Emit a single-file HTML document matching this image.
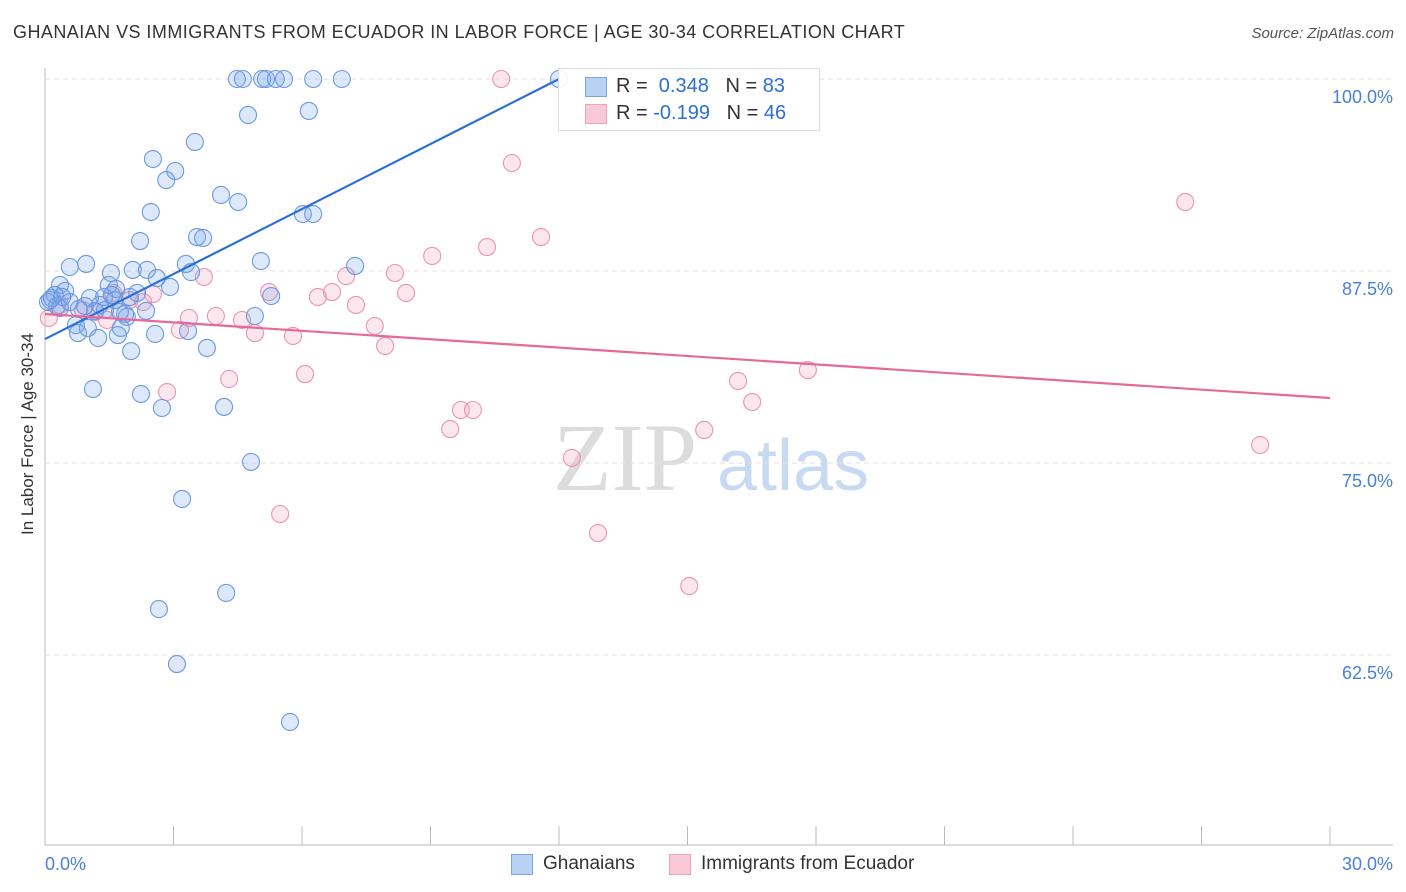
<!DOCTYPE html>
<html><head><meta charset="utf-8">
<style>
body{margin:0;background:#fff;font-family:"Liberation Sans",sans-serif;}
#wrap{position:relative;width:1406px;height:892px;overflow:hidden;}
.t{position:absolute;white-space:nowrap;}
</style></head>
<body>
<div id="wrap">
<div class="t" style="left:13px;top:22px;font-size:18px;color:#333;letter-spacing:0.45px">GHANAIAN VS IMMIGRANTS FROM ECUADOR IN LABOR FORCE | AGE 30-34 CORRELATION CHART</div>
<div class="t" style="right:12px;top:25px;font-size:15px;color:#555;font-style:italic">Source: ZipAtlas.com</div>
<div class="t" style="left:-52px;top:445px;font-size:17px;color:#333;transform:rotate(-90deg);transform-origin:center;width:160px;text-align:center">In Labor Force | Age 30-34</div>
<svg id="svg" width="1406" height="892" style="position:absolute;left:0;top:0"></svg>
</div>
<script>
const yTicks=[100,87.5,75,62.5];
const yTickLabels=["100.0%","87.5%","75.0%","62.5%"];
const xTickVals=[0,3,6,9,12,15,18,21,24,27,30];
const blueX=[4.48,4.62,5.07,5.16,5.39,5.58,6.26,6.93,12.0,4.74,6.16,3.50,2.52,3.04,2.83,4.11,4.51,2.47,6.02,6.26,2.22,3.55,3.69,0.58,0.96,1.54,2.05,2.38,3.29,5.04,7.24,3.41,2.61,0.35,0.47,2.92,1.49,1.66,0.23,0.12,0.16,1.05,1.38,2.15,5.28,1.98,0.35,1.17,0.79,2.36,1.87,1.91,4.90,0.72,1.00,1.77,0.77,1.24,1.70,2.57,3.34,2.01,3.78,1.12,2.24,2.73,4.18,4.81,3.20,2.66,4.23,3.08,5.72,0.28,0.07,0.58,1.63,1.28,0.93,1.75,0.40,1.40,1.56];
const blueY=[100,100,100,100,100,100,100,100,100,97.66,97.92,95.90,94.79,94.01,93.42,92.45,91.99,91.34,91.21,91.21,89.45,89.71,89.65,87.76,87.96,87.37,87.57,87.57,87.96,88.15,87.83,87.43,87.04,86.59,86.20,86.46,86.59,86.33,85.94,85.61,85.74,85.74,85.81,86.07,85.87,85.81,85.09,84.90,85.03,84.90,84.70,84.51,84.57,83.98,83.79,83.79,83.46,83.14,83.33,83.40,83.59,82.29,82.49,79.82,79.49,78.58,78.65,75.07,72.66,65.49,66.54,61.91,58.14,85.22,85.48,85.48,85.61,85.29,85.22,84.83,85.81,84.96,85.94];
const pinkX=[10.65,10.90,26.62,11.58,10.32,9.04,7.03,8.17,3.71,6.70,6.37,8.43,5.23,1.59,2.52,2.29,0.35,7.26,3.99,3.36,4.60,1.45,3.15,7.70,4.90,5.79,7.94,0.09,0.89,2.85,4.30,6.07,16.18,17.81,16.51,9.71,9.99,9.46,15.39,12.30,28.37,5.49,12.91,15.04,1.98,1.17];
const pinkY=[100,94.53,91.99,89.71,89.06,88.48,87.17,87.37,87.11,86.13,85.81,86.07,86.13,86.07,86.00,85.48,85.29,85.29,84.57,84.44,84.31,84.31,83.66,83.92,83.46,83.27,82.62,84.44,84.96,79.62,80.47,80.79,80.34,81.05,78.97,78.45,78.45,77.21,77.15,75.33,76.17,71.68,70.44,66.99,85.61,84.83];
const blueTrend=[[0,83.07],[12.0,100]];
const pinkTrend=[[0,84.7],[30,79.23]];

const X0=45,X1=1330,Y100=79,PX_PER=15.36;
const sx=v=>X0+v*(X1-X0)/30;
const sy=v=>Y100+(100-v)*PX_PER;
const svg=document.getElementById('svg');
const NS='http://www.w3.org/2000/svg';
function mk(tag,attrs){const e=document.createElementNS(NS,tag);for(const k in attrs)e.setAttribute(k,attrs[k]);svg.appendChild(e);return e;}

let w=mk('text',{x:553,y:490,'font-family':'Liberation Serif, serif','font-size':96,fill:'#dcdcdc'});
w.textContent='ZIP';


w=mk('text',{x:717,y:490,'font-family':'Liberation Sans, sans-serif','font-size':72,fill:'#c8daf2'});
w.textContent='atlas';



yTicks.forEach((t,i)=>{
  const g=mk('line',{x1:X0,x2:1393,y1:sy(t),y2:sy(t),stroke:'#e2e2e2','stroke-dasharray':'5,4','stroke-width':1});
  
  
  const l=mk('text',{x:1393,y:sy(t)+24,'text-anchor':'end','font-size':18,fill:'#4a7fd4','font-family':'Liberation Sans, sans-serif'});
  l.textContent=yTickLabels[i];
  
  
});
let a=mk('line',{x1:X0,x2:X0,y1:68,y2:845,stroke:'#bbb','stroke-width':1});


a=mk('line',{x1:X0,x2:1393,y1:845,y2:845,stroke:'#bbb','stroke-width':1});


xTickVals.forEach(v=>{
  const t=mk('line',{x1:sx(v),x2:sx(v),y1:826,y2:845,stroke:'#bbb','stroke-width':1});
  
  
});
let xl=mk('text',{x:45,y:870,'font-size':18,fill:'#4a7fd4','font-family':'Liberation Sans, sans-serif'});xl.textContent='0.0%';


xl=mk('text',{x:1393,y:870,'text-anchor':'end','font-size':18,fill:'#4a7fd4','font-family':'Liberation Sans, sans-serif'});xl.textContent='30.0%';



pinkX.forEach((x,i)=>{
  const c=mk('circle',{cx:sx(x),cy:sy(pinkY[i]),r:8.5,fill:'rgba(244,160,190,0.25)',stroke:'#eb93b0','stroke-width':1.1});
  
  
});
blueX.forEach((x,i)=>{
  const c=mk('circle',{cx:sx(x),cy:sy(blueY[i]),r:8.5,fill:'rgba(120,165,235,0.25)',stroke:'#6a9ade','stroke-width':1.1});
  
  
});
let tl=mk('line',{x1:sx(blueTrend[0][0]),y1:sy(blueTrend[0][1]),x2:sx(blueTrend[1][0]),y2:sy(blueTrend[1][1]),stroke:'#2a6fd6','stroke-width':2.2});


tl=mk('line',{x1:sx(pinkTrend[0][0]),y1:sy(pinkTrend[0][1]),x2:sx(pinkTrend[1][0]),y2:sy(pinkTrend[1][1]),stroke:'#e8689a','stroke-width':2.2});


</script>
<div style="position:absolute;left:558px;top:68px;width:260px;height:61px;border:1px solid #ddd;background:rgba(255,255,255,0.92);font-size:20px;">
  <div style="position:absolute;left:26px;top:8px;width:20px;height:18px;background:#b8d1f5;border:1px solid #7aa6e6"></div>
  <div class="t" style="left:57px;top:6px;color:#333">R = <span style="color:#2a6fd6">&nbsp;0.348</span>&nbsp;&nbsp;&nbsp;N = <span style="color:#2a6fd6">83</span></div>
  <div style="position:absolute;left:26px;top:35px;width:20px;height:18px;background:#f9c9d8;border:1px solid #eda3bd"></div>
  <div class="t" style="left:57px;top:33px;color:#333">R = <span style="color:#2a6fd6">-0.199</span>&nbsp;&nbsp;&nbsp;N = <span style="color:#2a6fd6">46</span></div>
</div>
<div style="position:absolute;left:511px;top:853px;font-size:19px;color:#333">
  <div style="position:absolute;left:0;top:1px;width:20px;height:19px;background:#b8d1f5;border:1px solid #7aa6e6"></div>
  <div class="t" style="left:32px;top:0">Ghanaians</div>
</div>
<div style="position:absolute;left:669px;top:853px;font-size:19px;color:#333">
  <div style="position:absolute;left:0;top:1px;width:20px;height:19px;background:#f9c9d8;border:1px solid #eda3bd"></div>
  <div class="t" style="left:32px;top:0">Immigrants from Ecuador</div>
</div>
</body></html>
